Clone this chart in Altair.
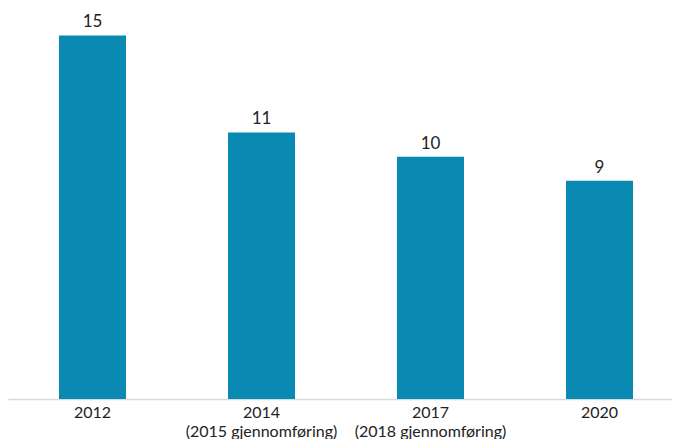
import altair as alt
import pandas as pd

years = ["2012", "2014", "2017", "2020"]
subs = ["", "(2015 gjennomføring)", "(2018 gjennomføring)", ""]
values = [15, 11, 10, 9]

labels = [y if s == "" else y + "\n" + s for y, s in zip(years, subs)]
df = pd.DataFrame({"label": labels, "value": values})

FONT = "Lato"

x = alt.X("label:N", sort=None, title=None,
          scale=alt.Scale(paddingInner=0.6, paddingOuter=0.2645, align=0.567),
          axis=alt.Axis(labelAngle=0, ticks=False, domainColor="#d9d9d9", domainWidth=1.5,
                        labelExpr="split(datum.label, '\\n')", labelFontSize=16,
                        labelColor="#222222", labelFont=FONT, labelPadding=5,
                        labelLineHeight=19))
y = alt.Y("value:Q", scale=alt.Scale(domain=[0, 16.05]), axis=None)

bars = alt.Chart(df).mark_bar(color="#0a89b2", size=67).encode(x=x, y=y)
text = alt.Chart(df).mark_text(baseline="bottom", dy=-4, fontSize=17, color="#222222",
                               font=FONT).encode(x=x, y=y, text="value:Q")

chart = (bars + text).properties(width=664, height=389,
                                 padding={"top": 2, "left": 0, "right": 0, "bottom": 0}
                                 ).configure_view(stroke=None)
chart.save("out.html", embed_options={"renderer": "svg", "actions": False})
